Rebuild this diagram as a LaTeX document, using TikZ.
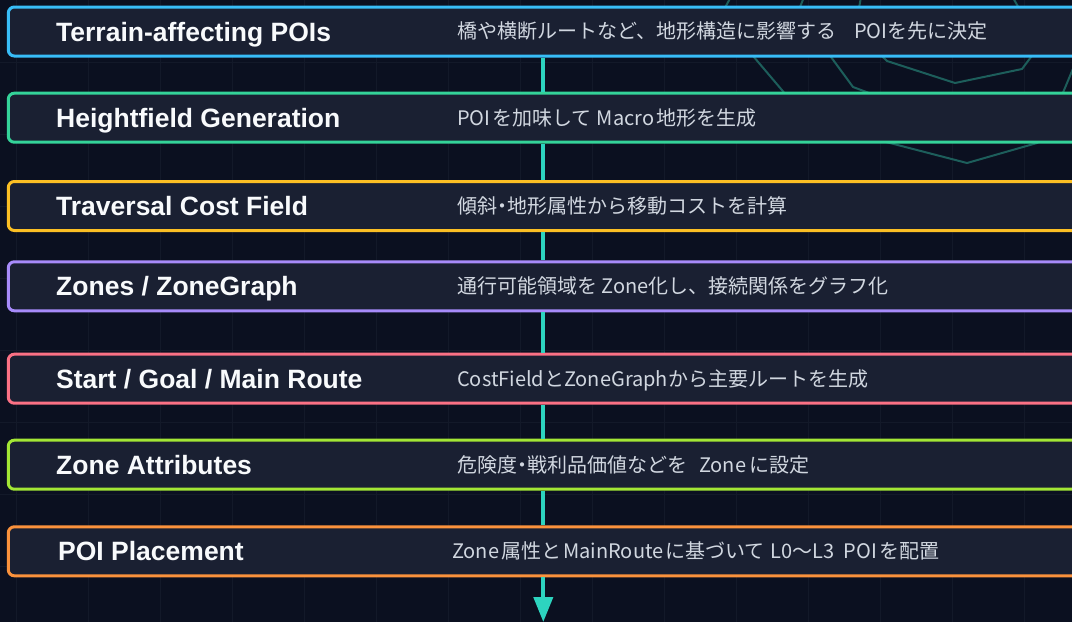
\documentclass[tikz,border=0pt]{standalone}
\usepackage{fontspec}
\setmainfont{Liberation Sans}
\newfontfamily\jp{Noto Sans CJK JP}
\usetikzlibrary{arrows.meta}
\definecolor{bg}{HTML}{0B1020}
\definecolor{gridc}{HTML}{131929}
\definecolor{boxfill}{HTML}{1A2032}
\definecolor{cblue}{HTML}{38BDF8}
\definecolor{cgreen}{HTML}{34D399}
\definecolor{cyellow}{HTML}{FBBF24}
\definecolor{cpurple}{HTML}{A78BFA}
\definecolor{cpink}{HTML}{FB7185}
\definecolor{clime}{HTML}{A3E635}
\definecolor{corange}{HTML}{FB923C}
\definecolor{spinec}{HTML}{2DD4BF}
\definecolor{hexc}{HTML}{1D5E5B}
\definecolor{titlec}{HTML}{F8FAFC}
\definecolor{descc}{HTML}{D1D7E0}
\newcommand{\hdot}{\hbox to 10pt{\hss・\hss}}
\begin{document}
\begin{tikzpicture}[x=1pt,y=-1pt,
  box/.style={draw=#1, line width=3pt, fill=boxfill, rounded corners=6pt,
    minimum width=1082pt, minimum height=49pt, inner sep=0pt},
  ttl/.style={anchor=base west, inner sep=0pt, text=titlec,
    font=\fontsize{26.5}{30}\selectfont\bfseries},
  dsc/.style={anchor=base west, inner sep=0pt, text=descc,
    font=\jp\fontsize{20}{24}\selectfont},
  link/.style={draw=spinec, line width=4pt},
  hexl/.style={draw=hexc, line width=2pt, line join=round},
  gridl/.style={draw=gridc, line width=1pt}]
\useasboundingbox (0,0) rectangle (1072,622);
\clip (0,0) rectangle (1072,622);
\fill[bg] (0,0) rectangle (1072,622);
% grid
\foreach \x in {16,88,...,1024} \draw[gridl] (\x,0) -- (\x,622);
\foreach \y in {62,134,...,566} \draw[gridl] (0,\y) -- (1072,\y);
% decorative hexagons
\draw[hexl] (865,-25) -- (855,30) -- (887,61) -- (955,83) -- (1022,69) -- (1040,45) -- (1000,-25) -- cycle;
\draw[hexl] (815,-30) -- (798,12) -- (853,87) -- (955,125) -- (1062,95) -- (1085,40) -- (1090,-30) -- cycle;
\draw[hexl] (740,-20) -- (720,17) -- (809,122) -- (967,163) -- (1037,143) -- (1110,90) -- (1110,-20) -- cycle;
% boxes
\node[box=cblue]   (b1) at (549.3,31.5)  {};
\node[box=cgreen]  (b2) at (549.3,117.7) {};
\node[box=cyellow] (b3) at (549.3,206)   {};
\node[box=cpurple] (b4) at (549.3,286.3) {};
\node[box=cpink]   (b5) at (549.3,378.7) {};
\node[box=clime]   (b6) at (549.3,464.7) {};
\node[box=corange] (b7) at (549.3,551.3) {};
% titles
\node[ttl] (t1) at (56,41)    {Terrain-affecting POIs};
\node[ttl] (t2) at (56,127.2) {Heightfield Generation};
\node[ttl] (t3) at (56,215.5) {Traversal Cost Field};
\node[ttl] (t4) at (56,295.8) {Zones / ZoneGraph};
\node[ttl] (t5) at (56,388.2) {Start / Goal / Main Route};
\node[ttl] (t6) at (56,474.2) {Zone Attributes};
\node[ttl] (t7) at (58,560.8) {POI Placement};
% descriptions
\node[dsc] (d1) at (457,38.8)  {橋や横断ルートなど、地形構造に影響する\hspace{18pt}POIを先に決定};
\node[dsc] (d2) at (457,125)   {POI\hspace{2pt}を加味して\hspace{5pt}Macro\hspace{2pt}地形を生成};
\node[dsc] (d3) at (457,213.3) {傾斜\hdot 地形属性から移動コストを計算};
\node[dsc] (d4) at (457,293.6) {通行可能領域を Zone化し、接続関係をグラフ化};
\node[dsc] (d5) at (457,386)   {CostFieldとZoneGraphから主要ルートを生成};
\node[dsc] (d6) at (457,472)   {危険度\hdot 戦利品価値などを\hspace{12pt}Zone\hspace{3pt}に設定};
\node[dsc] (d7) at (452,558.6) {Zone\hspace{2pt}属性と\hspace{2pt}MainRoute\hspace{2pt}に基づいて\hspace{6pt}L0〜L3\hspace{9pt}POI\hspace{2pt}を配置};
% spine connectors
\coordinate (sp) at (543.3,0);
\coordinate (tip) at (543.3,622);
\foreach \a/\b in {b1/b2,b2/b3,b3/b4,b4/b5,b5/b6,b6/b7}
  \draw[link] (\a.south -| sp) -- (\b.north -| sp);
\draw[link,-{Triangle[width=19pt,length=25pt]}] (b7.south -| sp) -- (tip);
\end{tikzpicture}
\end{document}
